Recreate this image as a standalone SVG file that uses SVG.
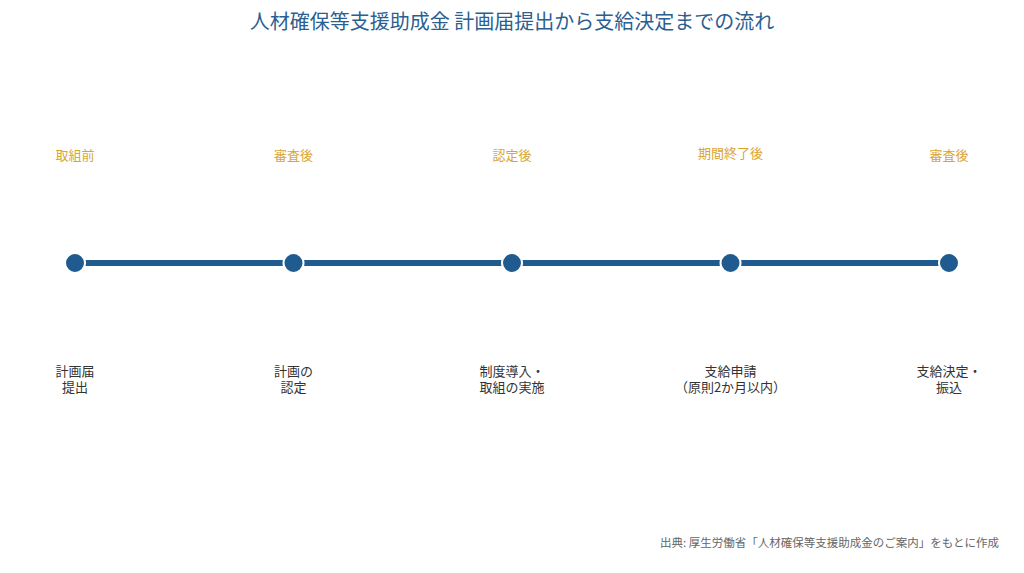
<svg xmlns="http://www.w3.org/2000/svg" width="1024" height="573" viewBox="0 0 1024 573">
<style>
text{font-family:"Noto Sans CJK JP","Noto Sans",sans-serif;text-anchor:middle}
.t{font-size:20px;fill:#2b5f91}
.top{font-size:13px;fill:#d9a533}
.bot{font-size:13px;fill:#333}
.src{font-size:11.5px;fill:#666;text-anchor:end}
.dot{fill:#1f5b8e;stroke:#fff;stroke-width:2}
.ln{stroke:#1f5b8e;stroke-width:6}
</style>
<rect width="1024" height="573" fill="#fff"/>
<text class="t" x="512" y="29">人材確保等支援助成金 計画届提出から支給決定までの流れ</text>
<g id="connectors">
<line class="ln" x1="75" y1="263" x2="949" y2="263"/>
</g>
<g id="n1"><circle class="dot" cx="75" cy="263" r="10"/><text class="top" x="75" y="160">取組前</text><text class="bot" x="75" y="376">計画届</text><text class="bot" x="75" y="392">提出</text></g>
<g id="n2"><circle class="dot" cx="293.5" cy="263" r="10"/><text class="top" x="293.5" y="160">審査後</text><text class="bot" x="293.5" y="376">計画の</text><text class="bot" x="293.5" y="392">認定</text></g>
<g id="n3"><circle class="dot" cx="512" cy="263" r="10"/><text class="top" x="512" y="160">認定後</text><text class="bot" x="512" y="376">制度導入・</text><text class="bot" x="512" y="392">取組の実施</text></g>
<g id="n4"><circle class="dot" cx="730.5" cy="263" r="10"/><text class="top" x="730.5" y="158">期間終了後</text><text class="bot" x="730.5" y="376">支給申請</text><text class="bot" x="730.5" y="392">（原則2か月以内）</text></g>
<g id="n5"><circle class="dot" cx="949" cy="263" r="10"/><text class="top" x="949" y="160">審査後</text><text class="bot" x="949" y="376">支給決定・</text><text class="bot" x="949" y="392">振込</text></g>
<text class="src" x="999" y="547">出典: 厚生労働省「人材確保等支援助成金のご案内」をもとに作成</text>
</svg>
